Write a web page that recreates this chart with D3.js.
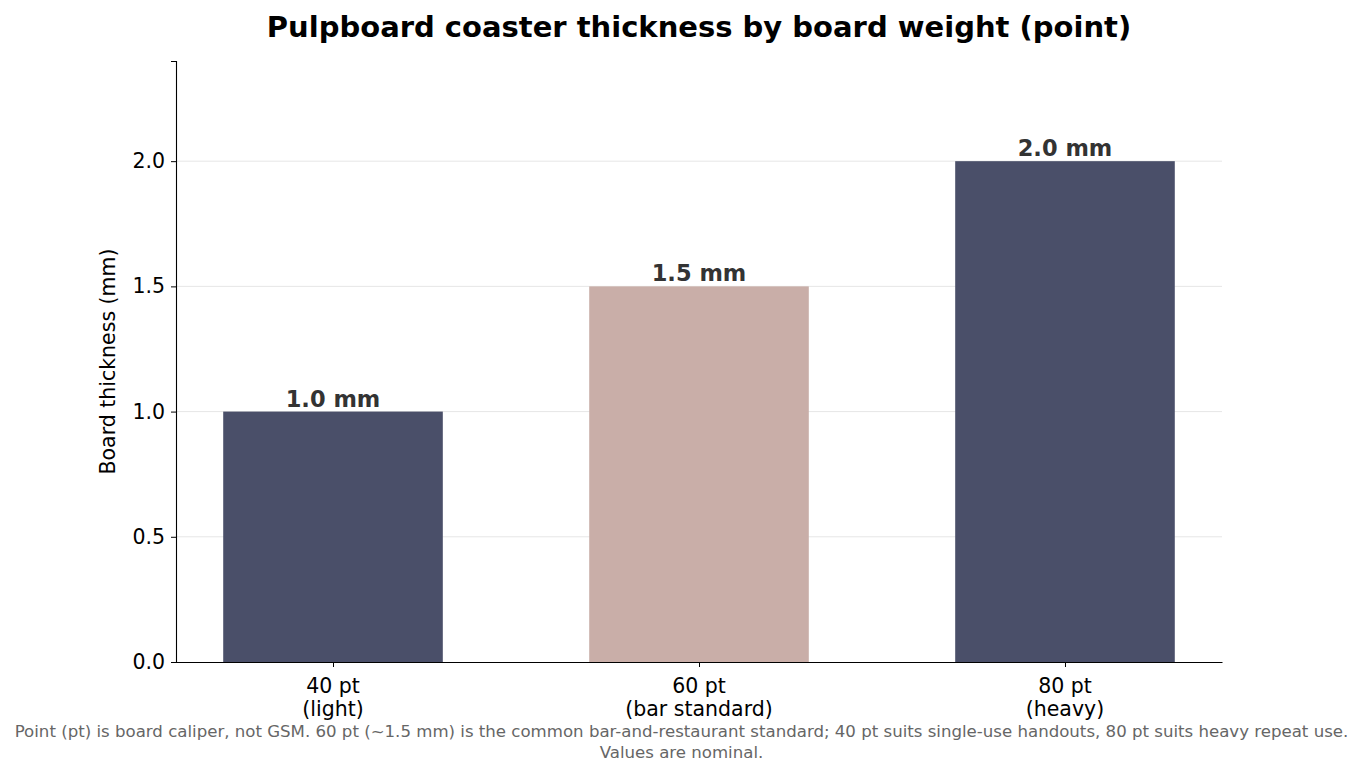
<!DOCTYPE html>
<html>
<head>
<meta charset="utf-8">
<script src="https://cdn.jsdelivr.net/npm/d3@7"></script>
<style>
  body { margin: 0; background: white; }
  text { font-family: "DejaVu Sans", sans-serif; }
</style>
</head>
<body>
<div class="chart"></div>
<script>
var categories = ['40 pt\n(light)', '60 pt\n(bar standard)', '80 pt\n(heavy)'];
var thickness = [1.0, 1.5, 2.0];
var barLabels = ['1.0 mm', '1.5 mm', '2.0 mm'];
var barColors = ['#4a4f69', '#c9aea8', '#4a4f69'];
var yTicks = [0, 0.5, 1.0, 1.5, 2.0];

var width = 1363, height = 777;
var plotLeft = 176, plotRight = 1222, plotTop = 61, plotBottom = 662;

var svg = d3.select(".chart")
    .append("svg")
    .attr("width", width)
    .attr("height", height)

var x = d3.scaleLinear()
    .domain([-0.429, 2.429])
    .range([plotLeft, plotRight])

var y = d3.scaleLinear()
    .domain([0, 2.4])
    .range([plotBottom, plotTop])

// grid
svg.selectAll(".grid")
    .data(yTicks.slice(1))
    .enter().append("line")
    .attr("x1", plotLeft)
    .attr("x2", plotRight)
    .attr("y1", function(d) { return y(d); })
    .attr("y2", function(d) { return y(d); })
    .attr("stroke", "#e6e6e6")
    .attr("stroke-width", 1)

svg.selectAll(".bar")
    .data(thickness)
    .enter().append("rect")
    .attr("x", function(d, i) { return x(i - 0.3); })
    .attr("width", function(d, i) { return x(i + 0.3) - x(i - 0.3); })
    .attr("y", function(d) { return y(d); })
    .attr("height", function(d) { return y(0) - y(d); })
    .attr("fill", function(d, i) { return barColors[i]; })

svg.selectAll(".barLabel")
    .data(thickness)
    .enter().append("text")
    .attr("x", function(d, i) { return x(i); })
    .attr("y", function(d) { return y(d) - 5; })
    .text(function(d, i) { return barLabels[i]; })
    .style("text-anchor", "middle")
    .style("font-size", "22.5px")
    .style("font-weight", "bold")
    .attr("fill", "#333333")

// y axis
var yAxis = svg.append("g")
    .attr("transform", "translate(" + plotLeft + ",0)")
    .call(d3.axisLeft(y).tickValues(yTicks).tickFormat(d3.format(".1f")).tickSize(5).tickPadding(6))
yAxis.select(".domain").attr("stroke", "#000").attr("stroke-width", 1.1)
yAxis.selectAll("text").style("font-size", "20.5px").attr("fill", "#000")
yAxis.selectAll(".tick line").attr("stroke", "#000")

// x axis
var xAxis = svg.append("g")
    .attr("transform", "translate(0," + plotBottom + ")")
    .call(d3.axisBottom(x).tickValues([0, 1, 2]).tickFormat("").tickSize(5).tickSizeOuter(0))
xAxis.select(".domain").attr("stroke", "#000").attr("stroke-width", 1.1)
xAxis.selectAll(".tick line").attr("stroke", "#000")

svg.selectAll(".xLabel")
    .data(categories)
    .enter().append("text")
    .attr("x", function(d, i) { return x(i); })
    .attr("y", plotBottom + 31)
    .style("text-anchor", "middle")
    .style("font-size", "20.5px")
    .selectAll("tspan")
    .data(function(d) { return d.split("\n"); })
    .enter().append("tspan")
    .attr("x", function() { return d3.select(this.parentNode).attr("x"); })
    .attr("dy", function(d, i) { return i == 0 ? 0 : 23; })
    .text(function(d) { return d; })

svg.append("text")
    .attr("transform", "translate(115," + ((plotTop + plotBottom) / 2) + ") rotate(-90)")
    .text("Board thickness (mm)")
    .style("text-anchor", "middle")
    .style("font-size", "20.5px")

svg.append("text")
    .attr("x", (plotLeft + plotRight) / 2)
    .attr("y", 37)
    .text("Pulpboard coaster thickness by board weight (point)")
    .style("text-anchor", "middle")
    .style("font-size", "29px")
    .style("font-weight", "bold")

var note = ["Point (pt) is board caliper, not GSM. 60 pt (~1.5 mm) is the common bar-and-restaurant standard; 40 pt suits single-use handouts, 80 pt suits heavy repeat use.",
    "Values are nominal."];
svg.selectAll(".note")
    .data(note)
    .enter().append("text")
    .attr("x", width / 2)
    .attr("y", function(d, i) { return 737 + i * 21; })
    .text(function(d) { return d; })
    .style("text-anchor", "middle")
    .style("font-size", "16.6px")
    .attr("fill", "#666666")
</script>
</body>
</html>
